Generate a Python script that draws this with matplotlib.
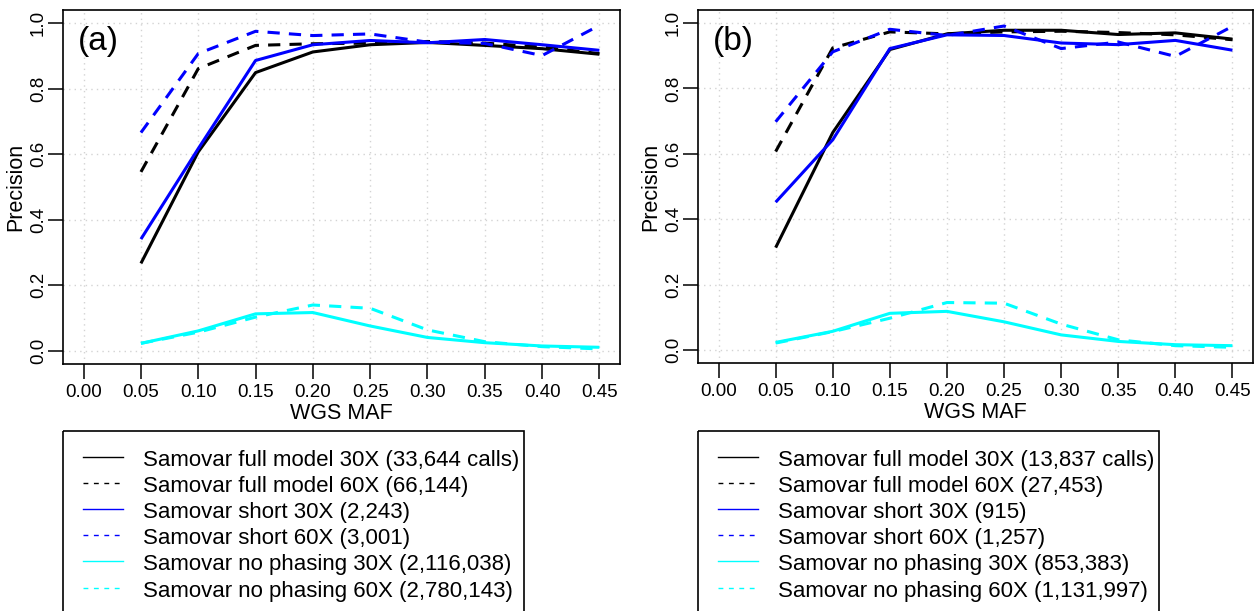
import matplotlib
matplotlib.use("Agg")
import matplotlib.pyplot as plt
from matplotlib.lines import Line2D
from matplotlib.patches import Rectangle

plt.rcParams['font.family'] = ['Liberation Sans', 'DejaVu Sans']

maf = [0.05, 0.10, 0.15, 0.20, 0.25, 0.30, 0.35, 0.40, 0.45]
xticks = [0.00, 0.05, 0.10, 0.15, 0.20, 0.25, 0.30, 0.35, 0.40, 0.45]
xtick_labels = ["0.00", "0.05", "0.10", "0.15", "0.20", "0.25", "0.30", "0.35", "0.40", "0.45"]
yticks = [0.0, 0.2, 0.4, 0.6, 0.8, 1.0]
ytick_labels = ["0.0", "0.2", "0.4", "0.6", "0.8", "1.0"]

# Panel (a)
a_full30 = [0.267, 0.607, 0.849, 0.912, 0.934, 0.941, 0.932, 0.922, 0.905]
a_full60 = [0.546, 0.861, 0.932, 0.937, 0.939, 0.944, 0.939, 0.927, 0.907]
a_short30 = [0.341, 0.617, 0.886, 0.934, 0.947, 0.940, 0.950, 0.934, 0.917]
a_short60 = [0.666, 0.907, 0.975, 0.962, 0.967, 0.942, 0.938, 0.901, 0.993]
a_nophase30 = [0.023, 0.061, 0.113, 0.117, 0.076, 0.041, 0.025, 0.015, 0.011]
a_nophase60 = [0.023, 0.057, 0.103, 0.140, 0.130, 0.064, 0.028, 0.013, 0.006]

# Panel (b)
b_full30 = [0.313, 0.665, 0.919, 0.967, 0.978, 0.978, 0.965, 0.970, 0.951]
b_full60 = [0.607, 0.924, 0.973, 0.967, 0.973, 0.975, 0.971, 0.964, 0.949]
b_short30 = [0.452, 0.643, 0.922, 0.964, 0.962, 0.939, 0.934, 0.947, 0.917]
b_short60 = [0.698, 0.912, 0.981, 0.962, 0.991, 0.922, 0.942, 0.898, 0.990]
b_nophase30 = [0.023, 0.057, 0.112, 0.118, 0.086, 0.046, 0.026, 0.016, 0.013]
b_nophase60 = [0.021, 0.056, 0.097, 0.145, 0.143, 0.079, 0.031, 0.013, 0.008]

a_labels = ["Samovar full model 30X (33,644 calls)", "Samovar full model 60X (66,144)",
            "Samovar short 30X (2,243)", "Samovar short 60X (3,001)",
            "Samovar no phasing 30X (2,116,038)", "Samovar no phasing 60X (2,780,143)"]
b_labels = ["Samovar full model 30X (13,837 calls)", "Samovar full model 60X (27,453)",
            "Samovar short 30X (915)", "Samovar short 60X (1,257)",
            "Samovar no phasing 30X (853,383)", "Samovar no phasing 60X (1,131,997)"]

colors = ["black", "black", "#0000FF", "#0000FF", "#00FFFF", "#00FFFF"]
styles = ["solid", "dashed", "solid", "dashed", "solid", "dashed"]

W, H = 1260, 611
fig = plt.figure(figsize=(W / 100, H / 100), dpi=100)


def px_axes(l, r, t, b):
    return fig.add_axes([l / W, (H - b) / H, (r - l) / W, (b - t) / H])


def draw_panel(ax, series, tag):
    for x in xticks:
        ax.axvline(x, color="#D3D3D3", lw=1.0, linestyle=(0, (1, 3)), zorder=0)
    for y in yticks:
        ax.axhline(y, color="#D3D3D3", lw=1.0, linestyle=(0, (1, 3)), zorder=0)
    for s, c, st in zip(series, colors, styles):
        ls = "-" if st == "solid" else (0, (4, 3))
        ax.plot(maf, s, color=c, lw=2.2, linestyle=ls, solid_capstyle="butt",
                dash_capstyle="butt", zorder=2)
    ax.set_xlim(-0.018, 0.468)
    ax.set_ylim(-0.04, 1.04)
    ax.set_xticks(xticks)
    ax.set_xticklabels(xtick_labels, fontsize=13.5)
    ax.set_yticks(yticks)
    ax.set_yticklabels(ytick_labels, fontsize=13.5, rotation=90, va="center")
    ax.tick_params(axis="both", direction="out", length=10.5, width=1.1, color="black")
    ax.tick_params(axis="x", pad=4)
    ax.tick_params(axis="y", pad=1)
    for sp in ax.spines.values():
        sp.set_linewidth(1.2)
    ax.set_xlabel("WGS MAF", fontsize=15.5, labelpad=1)
    ax.set_ylabel("Precision", fontsize=15.5, labelpad=3)
    ax.text(-0.005, 0.945, tag, fontsize=24, ha="left", va="center")


ax_a = px_axes(63, 620, 10, 364)
draw_panel(ax_a, [a_full30, a_full60, a_short30, a_short60, a_nophase30, a_nophase60], "(a)")
ax_b = px_axes(698, 1253, 10, 363)
draw_panel(ax_b, [b_full30, b_full60, b_short30, b_short60, b_nophase30, b_nophase60], "(b)")

# Legends drawn in a full-figure pixel axes
lg = fig.add_axes([0, 0, 1, 1])
lg.set_xlim(0, W)
lg.set_ylim(H, 0)
lg.axis("off")


def draw_legend(left, right, labels):
    lg.add_patch(Rectangle((left, 431), right - left, 200, fill=False,
                           edgecolor="black", lw=1.2, clip_on=False))
    for i, (lab, c, st) in enumerate(zip(labels, colors, styles)):
        base = 466 + 26.1 * i
        ls = "-" if st == "solid" else (0, (3.5, 4))
        lg.add_line(Line2D([left + 20, left + 60], [base - 9, base - 9], color=c,
                           lw=1.0, linestyle=ls))
        lg.text(left + 80, base, lab, fontsize=16, ha="left", va="baseline")


draw_legend(63, 524, a_labels)
draw_legend(698, 1159, b_labels)

fig.savefig("out.png", dpi=100)
